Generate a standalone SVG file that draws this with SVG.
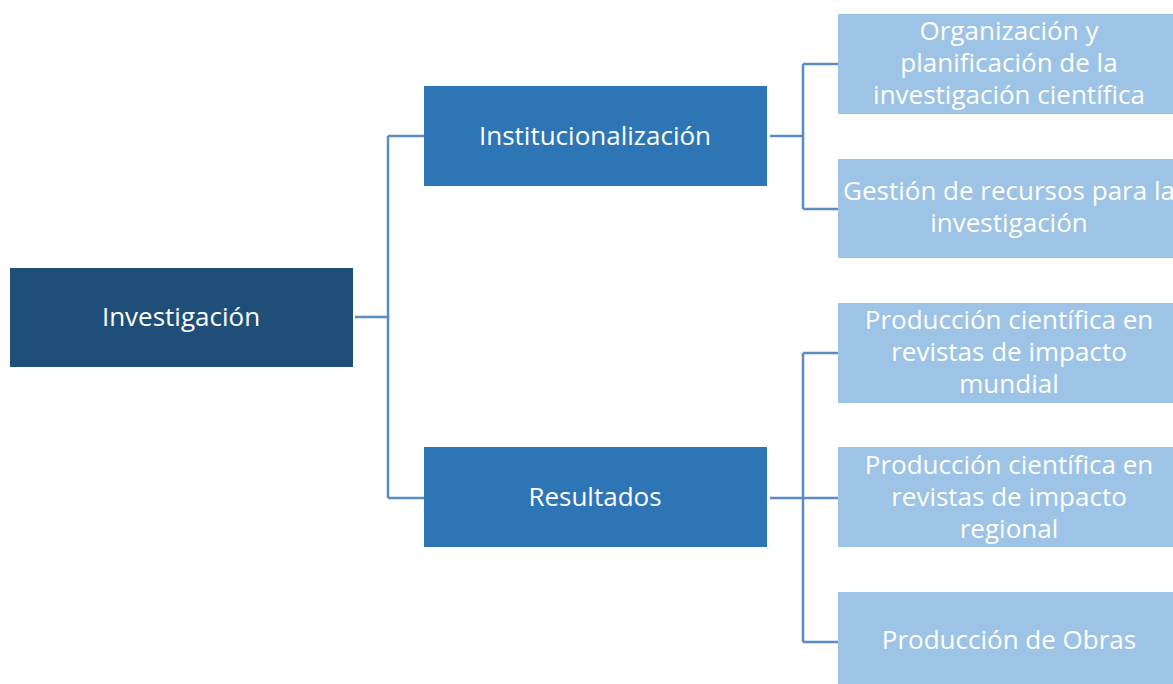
<svg xmlns="http://www.w3.org/2000/svg" width="1173" height="684" viewBox="0 0 1173 684">
<style>
.t{font-family:"Open Sans","Noto Sans",sans-serif;font-size:26px;fill:#ffffff;text-anchor:middle;dominant-baseline:central}
.root{fill:#1F4E79}
.mid{fill:#2E75B6}
.leaf{fill:#9DC3E6}
.c{fill:none;stroke:#5B8CC4;stroke-width:2.5}
</style>
<rect width="1173" height="684" fill="#ffffff"/>
<g id="connectors">
<path class="c" d="M355 317 H388 M388 136 V498 M388 136 H424 M388 498 H424"/>
<path class="c" d="M770 136 H803 M803 64 V209 M803 64 H838 M803 209 H838"/>
<path class="c" d="M770 498 H838 M803 353 V642 M803 353 H838 M803 642 H838"/>
</g>
<g id="investigacion">
<rect class="root" x="10" y="268" width="343" height="99"/>
<text class="t" x="181" y="316">Investigación</text>
</g>
<g id="institucionalizacion">
<rect class="mid" x="424" y="86" width="343" height="100"/>
<text class="t" x="595" y="135">Institucionalización</text>
</g>
<g id="resultados">
<rect class="mid" x="424" y="447" width="343" height="100"/>
<text class="t" x="595" y="496">Resultados</text>
</g>
<g id="organizacion">
<rect class="leaf" x="838" y="14" width="342" height="100"/>
<text class="t" x="1009" y="30">Organización y</text>
<text class="t" x="1009" y="62">planificación de la</text>
<text class="t" x="1009" y="94">investigación científica</text>
</g>
<g id="gestion">
<rect class="leaf" x="838" y="159" width="342" height="99"/>
<text class="t" x="1009" y="190">Gestión de recursos para la</text>
<text class="t" x="1009" y="222">investigación</text>
</g>
<g id="mundial">
<rect class="leaf" x="838" y="303" width="342" height="100"/>
<text class="t" x="1009" y="319">Producción científica en</text>
<text class="t" x="1009" y="351">revistas de impacto</text>
<text class="t" x="1009" y="383">mundial</text>
</g>
<g id="regional">
<rect class="leaf" x="838" y="447" width="342" height="100"/>
<text class="t" x="1009" y="464">Producción científica en</text>
<text class="t" x="1009" y="496">revistas de impacto</text>
<text class="t" x="1009" y="528">regional</text>
</g>
<g id="obras">
<rect class="leaf" x="838" y="592" width="342" height="100"/>
<text class="t" x="1009" y="639">Producción de Obras</text>
</g>
</svg>
